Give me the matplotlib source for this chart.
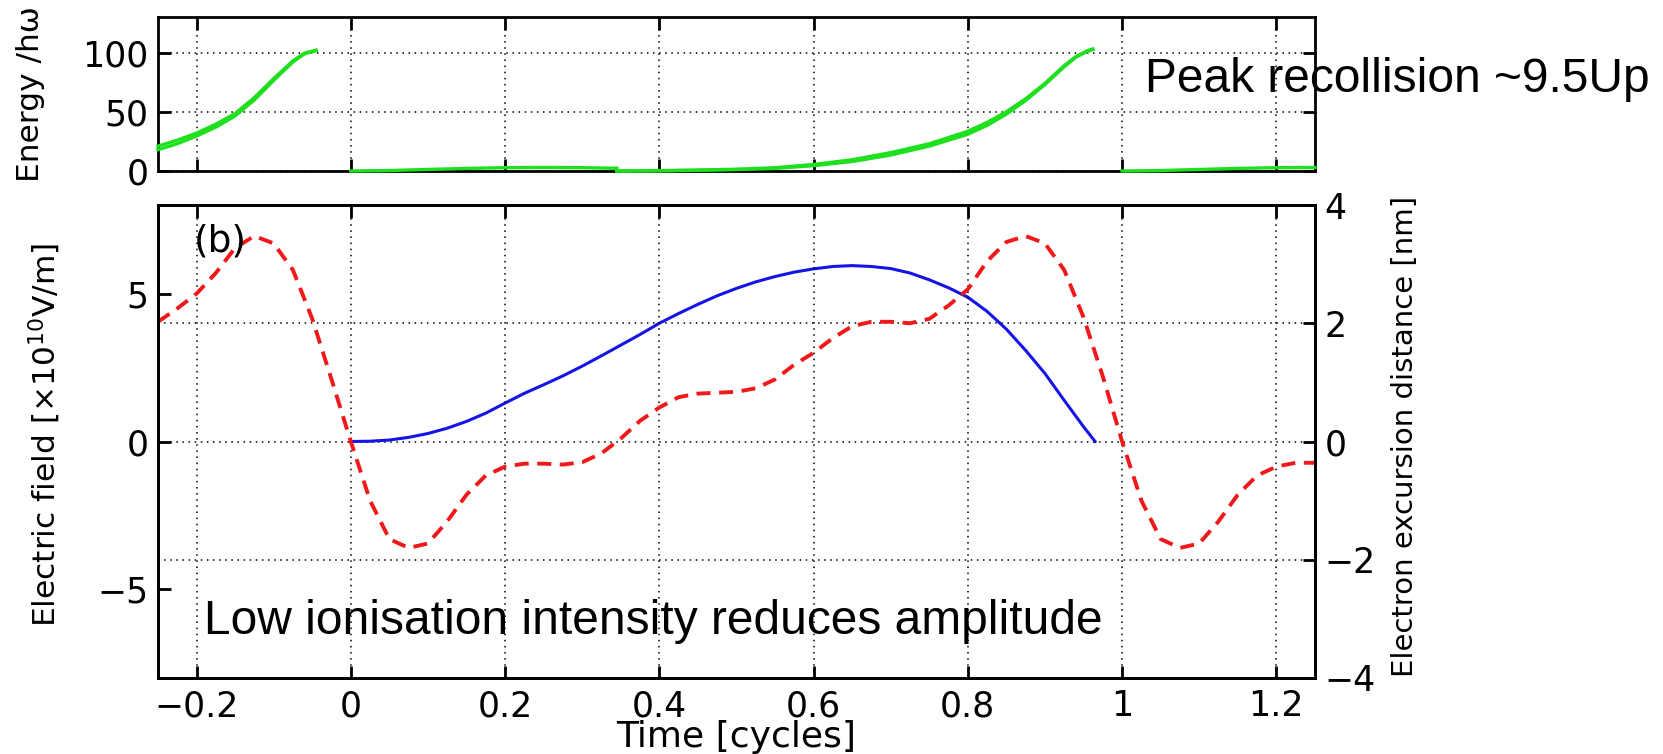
import matplotlib
matplotlib.use('Agg')
import matplotlib.pyplot as plt

plt.rcParams['font.family'] = ['DejaVu Sans']
ANNOT_FONT = ['Liberation Sans', 'DejaVu Sans']

# driving field, x10^10 V/m (red dashed, left axis)
t_field = [-0.25, -0.225, -0.2, -0.175, -0.15, -0.125, -0.1, -0.075, -0.05, -0.025,
           0.0, 0.025, 0.05, 0.075, 0.1, 0.125, 0.15, 0.175, 0.2, 0.225,
           0.25, 0.275, 0.3, 0.325, 0.35, 0.375, 0.4, 0.425, 0.45, 0.475,
           0.5, 0.525, 0.55, 0.575, 0.6, 0.625, 0.65, 0.675, 0.7, 0.725,
           0.75, 0.775, 0.8, 0.825, 0.85, 0.875, 0.9, 0.925, 0.95, 0.975,
           1.0, 1.025, 1.05, 1.075, 1.1, 1.125, 1.15, 1.175, 1.2, 1.225, 1.25]
field = [4.05, 4.5, 5.0, 5.7, 6.55, 6.95, 6.7, 5.8, 4.15, 2.1,
         0.0, -2.0, -3.3, -3.6, -3.45, -2.7, -1.8, -1.15, -0.85, -0.75,
         -0.75, -0.78, -0.7, -0.4, 0.1, 0.7, 1.15, 1.5, 1.62, 1.65,
         1.68, 1.8, 2.1, 2.6, 3.0, 3.5, 3.9, 4.05, 4.05, 4.0,
         4.15, 4.6, 5.15, 6.1, 6.75, 6.95, 6.7, 5.8, 4.2, 2.2,
         0.0, -2.0, -3.3, -3.6, -3.45, -2.7, -1.8, -1.15, -0.85, -0.72, -0.72]

# electron excursion, nm (blue, right axis)
t_exc = [0.0, 0.025, 0.05, 0.075, 0.1, 0.125, 0.15, 0.175, 0.2, 0.225,
         0.25, 0.275, 0.3, 0.325, 0.35, 0.375, 0.4, 0.425, 0.45, 0.475,
         0.5, 0.525, 0.55, 0.575, 0.6, 0.625, 0.65, 0.675, 0.7, 0.725,
         0.75, 0.775, 0.8, 0.825, 0.85, 0.875, 0.9, 0.925, 0.95, 0.965]
excursion = [0.0, 0.005, 0.025, 0.07, 0.135, 0.225, 0.34, 0.48, 0.65, 0.815,
             0.96, 1.11, 1.275, 1.45, 1.63, 1.81, 2.0, 2.165, 2.32, 2.465,
             2.59, 2.7, 2.79, 2.865, 2.92, 2.96, 2.975, 2.96, 2.925, 2.85,
             2.735, 2.6, 2.44, 2.2, 1.9, 1.54, 1.15, 0.695, 0.25, 0.0]

# return energy / hw (green), one entry per trajectory branch
t_en_a = [-0.25, -0.225, -0.2, -0.175, -0.15, -0.125, -0.1, -0.075, -0.06, -0.045]
en_a_1 = [21, 26, 32, 39.5, 48.5, 62, 78, 93, 99.5, 102]
en_a_2 = [18, 23, 29.5, 37, 46.5, 60, 76.5, 92, 99, 101.5]
t_en_b = [0.0, 0.05, 0.1, 0.15, 0.2, 0.25, 0.3, 0.345]
en_b = [0.0, 0.4, 1.3, 2.2, 2.8, 3.0, 2.8, 2.3]
t_en_c = [0.345, 0.4, 0.45, 0.5, 0.55, 0.6, 0.65, 0.7, 0.75, 0.8,
          0.825, 0.85, 0.875, 0.9, 0.925, 0.94, 0.955, 0.962]
en_c_1 = [0.0, 0.3, 0.8, 1.5, 2.8, 5.5, 9.5, 15.5, 23, 33.5,
          41, 50, 61, 74, 89, 96.5, 101.5, 103]
en_c_2 = [0.0, 0.2, 0.6, 1.2, 2.2, 4.5, 8, 13.5, 21, 31,
          38.5, 48, 59.5, 73, 88, 96, 101, 102.5]
t_en_d = [1.0, 1.05, 1.1, 1.15, 1.2, 1.25]
en_d = [0.0, 0.4, 1.3, 2.2, 2.8, 3.0]

x_ticks = [-0.2, 0, 0.2, 0.4, 0.6, 0.8, 1, 1.2]
x_labels = ['\u22120.2', '0', '0.2', '0.4', '0.6', '0.8', '1', '1.2']

GREEN = '#1ee01e'
grid_kw = dict(color='black', linestyle=(0, (1, 3)), linewidth=1.1)
tick_kw = dict(direction='in', length=9, width=2, labelsize=25, pad=7)

fig = plt.figure(figsize=(16.63, 7.54), dpi=100)
ax_e = fig.add_axes([0.0950, 0.7732, 0.6957, 0.2043])
ax = fig.add_axes([0.0950, 0.1008, 0.6957, 0.6273])

# top panel: energy
for t, e in [(t_en_a, en_a_1), (t_en_a, en_a_2), (t_en_b, en_b),
             (t_en_c, en_c_1), (t_en_c, en_c_2), (t_en_d, en_d)]:
    ax_e.plot(t, e, color=GREEN, lw=2.4, zorder=3, clip_on=False)
ax_e.set_xlim(-0.25, 1.25)
ax_e.set_ylim(0, 130)
ax_e.set_xticks(x_ticks)
ax_e.set_yticks([0, 50, 100])
ax_e.tick_params(axis='x', top=True, labelbottom=False, **tick_kw)
ax_e.tick_params(axis='y', right=True, **tick_kw)
ax_e.grid(True, **grid_kw)
ax_e.set_ylabel('Energy /h\u03c9', fontsize=22.5)
ax_e.yaxis.set_label_coords(-0.098, 0.5)
for s in ax_e.spines.values():
    s.set_linewidth(2)

# bottom panel: field and excursion
ax_r = ax.twinx()
ax.set_zorder(2)
ax.patch.set_visible(False)
ax_r.set_zorder(1)

ax.plot(t_field, field, color='#f01818', lw=2.8, dashes=(3.6, 2.2))
ax_r.plot(t_exc, excursion, color='#1414e6', lw=2.2)

ax.set_xlim(-0.25, 1.25)
ax.set_ylim(-8, 8)
ax_r.set_ylim(-4, 4)
ax.set_xticks(x_ticks)
ax.set_xticklabels(x_labels)
ax.set_yticks([-5, 0, 5])
ax_r.set_yticks([-4, -2, 0, 2, 4])
ax.tick_params(axis='x', top=True, **dict(tick_kw, pad=8))
ax.tick_params(axis='y', right=False, **tick_kw)
ax_r.tick_params(axis='y', **tick_kw)
ax.grid(True, axis='x', **grid_kw)
ax_r.grid(True, axis='y', **grid_kw)
for a in (ax, ax_r):
    for s in a.spines.values():
        s.set_linewidth(2)

ax.set_xlabel('Time [cycles]', fontsize=26, va='baseline')
ax.xaxis.set_label_coords(0.5, -0.146)
ax.set_ylabel('Electric field [\u00d710$^{10}$V/m]', fontsize=22.5)
ax.yaxis.set_label_coords(-0.0823, 0.514)
ax_r.set_ylabel('Electron excursion distance [nm]', fontsize=21)
ax_r.yaxis.set_label_coords(1.0658, 0.51)

ax.text(0.031, 0.922, '(b)', transform=ax.transAxes, fontsize=27,
        ha='left', va='center')
ax.text(0.040, 0.092, 'Low ionisation intensity reduces amplitude',
        transform=ax.transAxes, fontsize=34.5, family=ANNOT_FONT,
        ha='left', va='baseline')
fig.text(0.6885, 0.878, 'Peak recollision ~9.5Up', fontsize=34.5,
         family=ANNOT_FONT, ha='left', va='baseline')

fig.savefig('out.png', dpi=100)
